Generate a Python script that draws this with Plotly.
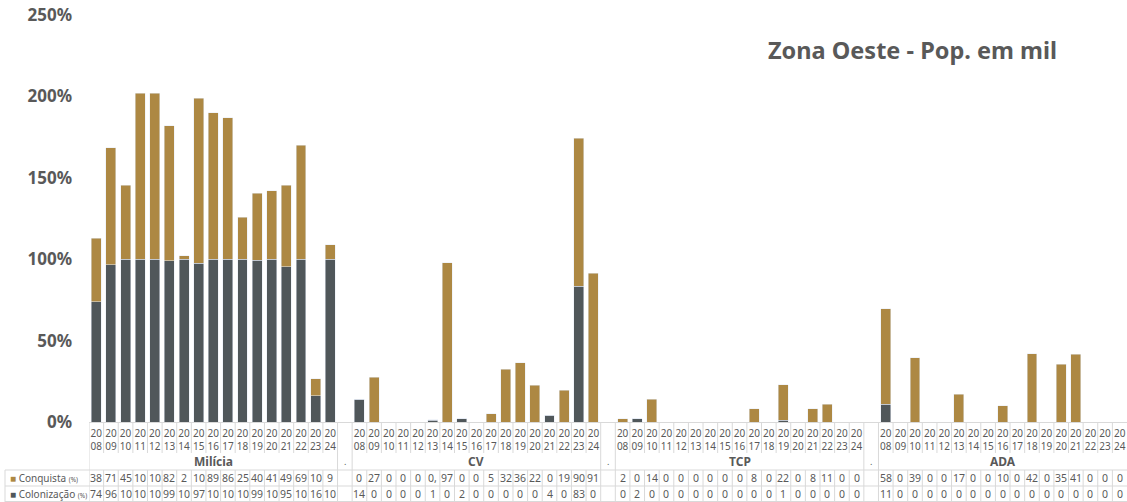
import plotly.graph_objects as go

years = [str(y) for y in range(2008, 2025)]
groups = ["Milícia", "CV", "TCP", "ADA"]

milicia_colonizacao = [74, 96.5, 100, 100, 100, 99, 100, 97.5, 100, 100, 100, 99.5, 100, 95.5, 100, 16, 100]
milicia_conquista = [38.9, 71.9, 45.5, 102, 102, 82.9, 2, 101.5, 89.9, 86.9, 25.9, 40.9, 41.9, 49.9, 69.9, 10.5, 9]
cv_colonizacao = [14, 0, 0, 0, 0, 1, 0, 2, 0, 0, 0, 0, 0, 4, 0, 83.5, 0]
cv_conquista = [0, 27.5, 0, 0, 0, 0.5, 97.9, 0, 0, 5, 32.5, 36.5, 22.5, 0, 19.5, 90.9, 91.5]
tcp_colonizacao = [0, 2, 0, 0, 0, 0, 0, 0, 0, 0, 0, 1, 0, 0, 0, 0, 0]
tcp_conquista = [2, 0, 14, 0, 0, 0, 0, 0, 0, 8, 0, 22, 0, 8, 11, 0, 0]
ada_colonizacao = [11, 0, 0, 0, 0, 0, 0, 0, 0, 0, 0, 0, 0, 0, 0, 0, 0]
ada_conquista = [58.5, 0, 39.5, 0, 0, 17, 0, 0, 10, 0, 42, 0, 35.5, 41.5, 0, 0, 0]

y_ticks = [0, 50, 100, 150, 200, 250]

colon = [milicia_colonizacao, cv_colonizacao, tcp_colonizacao, ada_colonizacao]
conq = [milicia_conquista, cv_conquista, tcp_conquista, ada_conquista]

GOLD = "#AD8843"
DARK = "#50575A"
TXT = "#595959"
GRID = "#D9D9D9"
FONT = "Noto Sans"

n_years = len(years)
step = n_years + 1
xs, c1, c2, tickvals, ticktext = [], [], [], [], []
for g in range(len(groups)):
    for j in range(n_years):
        x = g * step + j
        xs.append(x)
        c1.append(colon[g][j])
        c2.append(conq[g][j])
        tickvals.append(x)
        ticktext.append(years[j][:2] + "<br>" + years[j][2:])
ncols = len(groups) * step - 1
seps = [g * step + n_years for g in range(len(groups) - 1)]

fig = go.Figure()
fig.add_bar(x=xs, y=c1, name="Colonização (%)", marker_color=DARK, width=0.68)
fig.add_bar(x=xs, y=c2, name="Conquista (%)", marker_color=GOLD, width=0.68)

LEFT, RIGHT = 89, 1127
TOP, BOT = 15, 422
PH = BOT - TOP
PW = RIGHT - LEFT
def py(p):
    return (BOT - p) / PH
def px(p):
    return (p - LEFT) / PW

def fmt(v):
    s = str(int(v)) if float(v).is_integer() else f"{v:.1f}".replace(".", ",")
    return s[:2]

ann = []
shapes = []
row_y = {"conq": 478, "col": 494}
cell_font = dict(size=10.5, color=TXT, family=FONT)
for i, x in enumerate(xs):
    ann.append(dict(x=x, y=py(row_y["conq"]), xref="x", yref="paper", text=fmt(c2[i]),
                    xanchor="center", yanchor="middle", showarrow=False, font=cell_font))
    ann.append(dict(x=x, y=py(row_y["col"]), xref="x", yref="paper", text=fmt(c1[i]),
                    xanchor="center", yanchor="middle", showarrow=False, font=cell_font))
for g, name in enumerate(groups):
    cx = g * step + (n_years - 1) / 2
    ann.append(dict(x=cx, y=py(461), xref="x", yref="paper", text="<b>" + name + "</b>",
                    xanchor="center", yanchor="middle",
                    showarrow=False, font=dict(size=12, color=TXT, family=FONT)))
for s in seps:
    ann.append(dict(x=s, y=py(462), xref="x", yref="paper", text=".",
                    xanchor="center", yanchor="middle",
                    showarrow=False, font=dict(size=9, color=TXT, family=FONT)))
ann.append(dict(x=px(8), y=py(row_y["conq"]), xref="paper", yref="paper", xanchor="left", yanchor="middle",
                text=f"<span style='color:{GOLD}'>■</span> Conquista <span style='font-size:6.5px'>(%)</span>",
                showarrow=False, font=dict(size=10, color=TXT, family=FONT)))
ann.append(dict(x=px(8), y=py(row_y["col"]), xref="paper", yref="paper", xanchor="left", yanchor="middle",
                text=f"<span style='color:{DARK}'>■</span> Colonização <span style='font-size:6.5px'>(%)</span>",
                showarrow=False, font=dict(size=10, color=TXT, family=FONT)))
ann.append(dict(x=px(1059), y=py(50), xref="paper", yref="paper", xanchor="right", yanchor="middle",
                text="<b>Zona Oeste - Pop. em mil</b>",
                showarrow=False, font=dict(size=23.5, color=TXT, family=FONT)))

def vline(x, y0, y1):
    shapes.append(dict(type="line", xref="x", yref="paper", x0=x, x1=x, y0=py(y0), y1=py(y1),
                       line=dict(color=GRID, width=1)))

group_bounds = set([-0.5])
for s in seps:
    group_bounds.add(s - 0.5)
    group_bounds.add(s + 0.5)
for k in range(ncols):
    b = k - 0.5
    if b in group_bounds:
        vline(b, BOT, 502)
    else:
        vline(b, BOT, 453)
        vline(b, 470, 502)
for yy in [470, 486, 501.5]:
    shapes.append(dict(type="line", xref="paper", yref="paper", x0=px(5), x1=1,
                       y0=py(yy), y1=py(yy), line=dict(color=GRID, width=1)))
shapes.append(dict(type="line", xref="paper", yref="paper", x0=px(5), x1=px(5),
                   y0=py(470), y1=py(502), line=dict(color=GRID, width=1)))

fig.update_layout(
    width=1127, height=502,
    margin=dict(l=LEFT, r=1127 - RIGHT, t=TOP, b=502 - BOT, autoexpand=False),
    barmode="stack",
    showlegend=False,
    plot_bgcolor="white", paper_bgcolor="white",
    font=dict(family=FONT, color=TXT),
    annotations=ann, shapes=shapes,
    xaxis=dict(range=[-0.5, ncols - 0.5], tickvals=tickvals, ticktext=ticktext,
               tickfont=dict(size=10, color=TXT, family=FONT), showgrid=False,
               showline=True, linecolor=GRID, linewidth=1, ticks="", zeroline=False,
               ticklabelstandoff=2, automargin=False),
    yaxis=dict(range=[0, 250], tickvals=y_ticks, ticktext=[f"{v}%" for v in y_ticks],
               tickfont=dict(size=17, color=TXT, family=FONT, weight="bold"),
               showgrid=False, zeroline=False, ticks="", ticklabelstandoff=16, automargin=False),
)
fig.write_html("out.html", post_script="document.body.style.margin='0';",
               config={"displayModeBar": False})
